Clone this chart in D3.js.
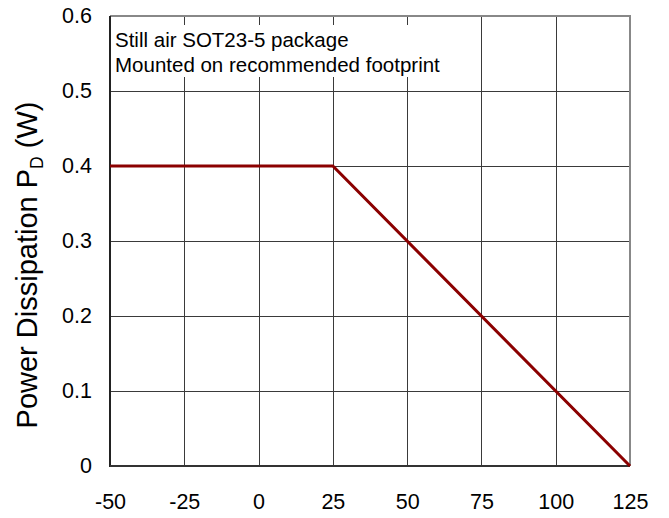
<!DOCTYPE html>
<html>
<head>
<meta charset="utf-8">
<script src="https://cdn.jsdelivr.net/npm/d3@7"></script>
<style>
  html, body { margin: 0; padding: 0; background: #fff; }
  svg { display: block; font-family: Arial, "Liberation Sans", sans-serif; }
</style>
</head>
<body>
<svg id="chart" width="669" height="518"></svg>
<script>
// Derating curve: ambient temperature (°C) vs. allowed power dissipation (W)
const tempC = [-50, 25, 125];
const powerW = [0.4, 0.4, 0];

const xTicks = [-50, -25, 0, 25, 50, 75, 100, 125];
const yTicks = [0, 0.1, 0.2, 0.3, 0.4, 0.5, 0.6];
const noteLines = ["Still air SOT23-5 package", "Mounted on recommended footprint"];

const svg = d3.select("#chart");
const margin = { left: 110, right: 39, top: 16, bottom: 52 };
const W = 669, H = 518;

const x = d3.scaleLinear().domain([-50, 125]).range([margin.left, W - margin.right]);
const y = d3.scaleLinear().domain([0, 0.6]).range([H - margin.bottom, margin.top]);

const fmtY = v => v === 0 ? "0" : d3.format(".1f")(v);

// grid
const grid = svg.append("g").attr("stroke", "#3a3a3a").attr("stroke-width", 1);
grid.selectAll("line.v").data(xTicks.slice(1, -1)).join("line")
  .attr("x1", d => Math.round(x(d)) + 0.5).attr("x2", d => Math.round(x(d)) + 0.5)
  .attr("y1", y(0.6)).attr("y2", y(0));
grid.selectAll("line.h").data(yTicks.slice(1, -1)).join("line")
  .attr("y1", d => Math.round(y(d)) + 0.5).attr("y2", d => Math.round(y(d)) + 0.5)
  .attr("x1", x(-50)).attr("x2", x(125));

// note box with white backing over the grid
const noteG = svg.append("g");
const noteRect = noteG.append("rect")
  .attr("x", x(-50) + 1).attr("y", 25)
  .attr("height", 52)
  .attr("fill", "#fff");
const noteText = noteG.selectAll("text").data(noteLines).join("text")
  .attr("x", x(-50) + 5)
  .attr("y", (d, i) => 46.5 + i * 25.5)
  .attr("font-size", 20.5)
  .attr("fill", "#000")
  .text(d => d);
const noteW = d3.max(noteText.nodes(), n => n.getComputedTextLength());
noteRect.attr("width", noteW + 8);

// frame: top/right in grey, left/bottom darker
svg.append("line").attr("x1", x(-50)).attr("x2", x(125) + 1).attr("y1", y(0.6)).attr("y2", y(0.6))
  .attr("stroke", "#888").attr("stroke-width", 2);
svg.append("line").attr("x1", x(125)).attr("x2", x(125)).attr("y1", y(0.6)).attr("y2", y(0))
  .attr("stroke", "#888").attr("stroke-width", 2);
svg.append("line").attr("x1", x(-50)).attr("x2", x(-50)).attr("y1", y(0.6)).attr("y2", y(0) + 1)
  .attr("stroke", "#222").attr("stroke-width", 2);
svg.append("line").attr("x1", x(-50)).attr("x2", x(125)).attr("y1", y(0)).attr("y2", y(0))
  .attr("stroke", "#333").attr("stroke-width", 2);

// axes (labels only)
const xAxis = svg.append("g").attr("transform", `translate(0,${y(0)})`)
  .call(d3.axisBottom(x).tickValues(xTicks).tickSize(0).tickPadding(28).tickFormat(d => String(d)));
const yAxis = svg.append("g").attr("transform", `translate(${x(-50)},0)`)
  .call(d3.axisLeft(y).tickValues(yTicks).tickSize(0).tickPadding(18).tickFormat(fmtY));
[xAxis, yAxis].forEach(a => {
  a.select(".domain").remove();
  a.selectAll("text").attr("font-size", 21.5).attr("fill", "#000")
    .attr("font-family", "Arial, 'Liberation Sans', sans-serif");
});

// y-axis title
const yt = svg.append("text")
  .attr("transform", "translate(37,265) rotate(-90)")
  .attr("text-anchor", "middle")
  .attr("font-size", 29)
  .attr("fill", "#000");
yt.append("tspan").text("Power Dissipation P");
yt.append("tspan").attr("font-size", 17.5).attr("dy", 6).text("D");
yt.append("tspan").attr("dy", -6).text(" (W)");

// derating curve
const line = d3.line().x((d, i) => x(tempC[i])).y(d => y(d));
svg.append("path").datum(powerW)
  .attr("d", line)
  .attr("fill", "none")
  .attr("stroke", "#8b0000")
  .attr("stroke-width", 3)
  .attr("stroke-linejoin", "miter");
</script>
</body>
</html>
